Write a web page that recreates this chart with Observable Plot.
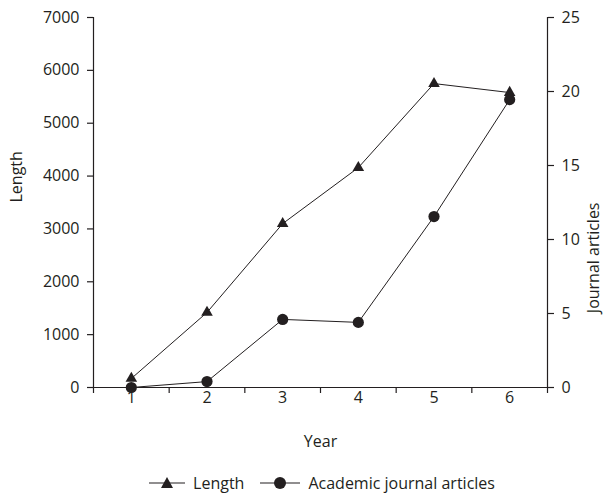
<!DOCTYPE html>
<html>
<head>
<meta charset="utf-8">
<script src="https://cdn.jsdelivr.net/npm/d3@7"></script>
<script src="https://cdn.jsdelivr.net/npm/@observablehq/plot@0.6"></script>
<style>
  body { margin: 0; background: #fff; font-family: "Open Sans", sans-serif; color: #231f20; }
  #legend { width: 606px; box-sizing: border-box; padding-left: 38px; height: 32px; display: flex; justify-content: center; align-items: center; font-size: 16px; gap: 0; padding-top: 10px; }
  #legend .item { display: flex; align-items: center; }
  #legend svg { display: block; margin-right: 8px; }
</style>
</head>
<body>
<div id="chart"></div>
<div id="legend"></div>
<script>
const years = [1, 2, 3, 4, 5, 6];
const lengthVals = [170, 1420, 3100, 4160, 5750, 5580];
const articleVals = [0, 0.4, 4.6, 4.4, 11.55, 19.45];
const leftTicks = [0, 1000, 2000, 3000, 4000, 5000, 6000, 7000];
const rightTicks = [0, 5, 10, 15, 20, 25];
const yearBounds = [0.5, 1.5, 2.5, 3.5, 4.5, 5.5, 6.5];
const seriesNames = ["Length", "Academic journal articles"];
const axisTitles = { x: "Year", left: "Length", right: "Journal articles" };

const k = 7000 / 25; // right-axis to left-axis factor
const lenData = years.map((y, i) => ({ year: y, v: lengthVals[i] }));
const artData = years.map((y, i) => ({ year: y, v: articleVals[i] * k }));
const ink = "#231f20";

const chart = Plot.plot({
  width: 606,
  height: 462,
  marginLeft: 93,
  marginRight: 59,
  marginTop: 17,
  marginBottom: 75,
  style: { fontFamily: "'Open Sans', sans-serif", fontSize: "16px", color: ink, background: "#fff" },
  x: { type: "linear", domain: [0.5, 6.5] },
  y: { domain: [0, 7000] },
  marks: [
    Plot.ruleY([0], { stroke: ink, strokeWidth: 1.2 }),
    Plot.ruleX([0.5], { stroke: ink, strokeWidth: 1.2 }),
    Plot.ruleX([6.5], { stroke: ink, strokeWidth: 1.2 }),
    Plot.axisY({ anchor: "left", ticks: leftTicks, tickFormat: d => String(d), tickSize: 6, tickPadding: 8, label: null, strokeWidth: 1.2 }),
    Plot.axisY({ anchor: "right", ticks: rightTicks.map(v => v * k), tickFormat: d => String(Math.round(d / k)), tickSize: 6, tickPadding: 8, label: null, strokeWidth: 1.2 }),
    Plot.axisX({ ticks: yearBounds, tickFormat: () => "", tickSize: 6, label: null, strokeWidth: 1.2 }),
    Plot.axisX({ ticks: years, tickFormat: d => String(d), tickSize: 0, tickPadding: 4, label: null }),
    Plot.text([axisTitles.x], { frameAnchor: "bottom", dy: 59, text: d => d, fill: ink }),
    Plot.text([axisTitles.left], { frameAnchor: "left", dx: -77, rotate: -90, text: d => d, fill: ink }),
    Plot.text([axisTitles.right], { frameAnchor: "right", dx: 46, rotate: -90, text: d => d, fill: ink }),
    Plot.line(artData, { x: "year", y: "v", stroke: ink, strokeWidth: 1 }),
    Plot.line(lenData, { x: "year", y: "v", stroke: ink, strokeWidth: 1 }),
    Plot.dot(lenData, { x: "year", y: "v", symbol: "triangle", r: 4.3, fill: ink, stroke: "none" }),
    Plot.dot(artData, { x: "year", y: "v", symbol: "circle", r: 5.6, fill: ink, stroke: "none" })
  ]
});
document.getElementById("chart").appendChild(chart);

const legend = document.getElementById("legend");
const symbols = [
  `<svg width="36" height="16"><line x1="0" y1="8" x2="36" y2="8" stroke="${ink}" stroke-width="1.2"/><path d="M18,2 L24,13 L12,13 Z" fill="${ink}"/></svg>`,
  `<svg width="40" height="16"><line x1="0" y1="8" x2="40" y2="8" stroke="${ink}" stroke-width="1.2"/><circle cx="20" cy="8" r="6" fill="${ink}"/></svg>`
];
seriesNames.forEach((name, i) => {
  const item = document.createElement("div");
  item.className = "item";
  item.style.marginRight = i === 0 ? "16px" : "0";
  item.innerHTML = symbols[i] + `<span>${name}</span>`;
  legend.appendChild(item);
});
</script>
</body>
</html>
